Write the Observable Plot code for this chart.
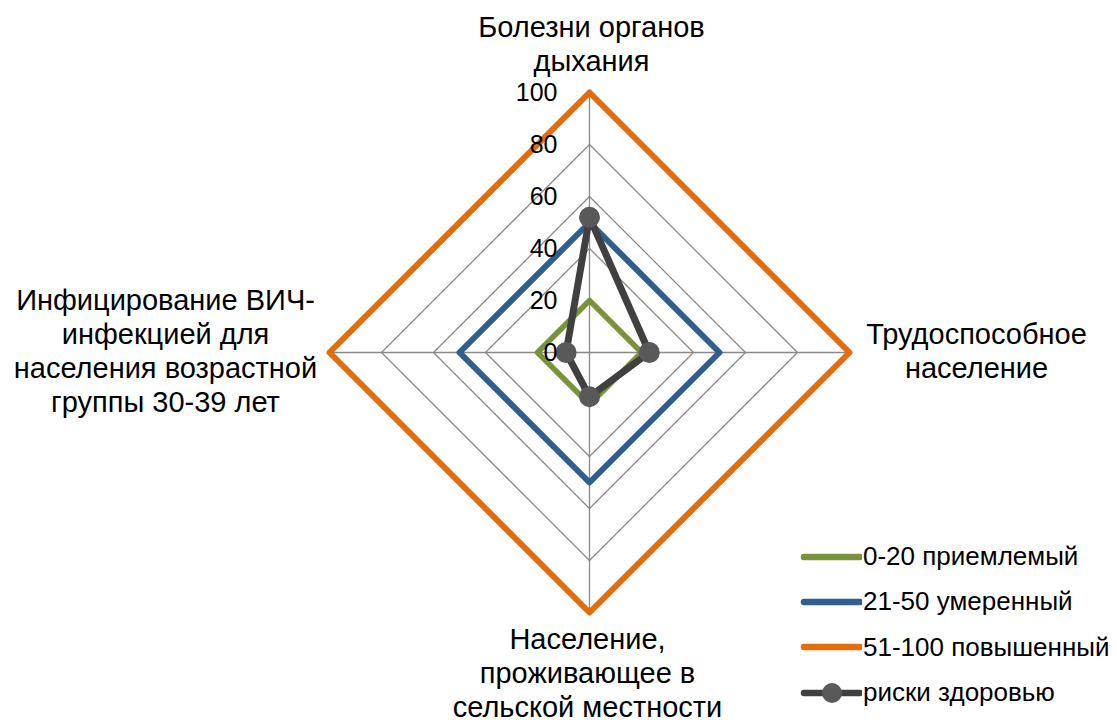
<!DOCTYPE html>
<html>
<head>
<meta charset="utf-8">
<script src="https://cdn.jsdelivr.net/npm/d3@7"></script>
<script src="https://cdn.jsdelivr.net/npm/@observablehq/plot@0.6"></script>
<style>
  body { margin: 0; background: #fff; font-family: "Liberation Sans", Arial, sans-serif; }
  #wrap { position: relative; width: 1117px; height: 720px; overflow: hidden; }
  #legend { position: absolute; left: 800px; top: 534px; font-size: 26px; color: #000; white-space: nowrap; }
  .row { display: flex; align-items: center; height: 45.3px; }
  .row svg { display: block; margin-right: 1px; }
</style>
</head>
<body>
<div id="wrap">
  <div id="chart"></div>
  <div id="legend"></div>
</div>
<script>
const categories = [
  "Болезни органов дыхания",
  "Трудоспособное население",
  "Население, проживающее в сельской местности",
  "Инфицирование ВИЧ-инфекцией для населения возрастной группы 30-39 лет"
];
const categoryLabels = [
  "Болезни органов\nдыхания",
  "Трудоспособное\nнаселение",
  "Население,\nпроживающее в\nсельской местности",
  "Инфицирование ВИЧ-\nинфекцией для\nнаселения возрастной\nгруппы 30-39 лет"
];
const seriesNames = ["0-20 приемлемый", "21-50 умеренный", "51-100 повышенный", "риски здоровью"];
const acceptable = [20, 20, 20, 20];
const moderate = [50, 50, 50, 50];
const elevated = [100, 100, 100, 100];
const risks = [52, 23, 17, 9];
const tickValues = [0, 20, 40, 60, 80, 100];
const colors = ["#77933C", "#2F5F8F", "#E46C0A", "#404040"];

const cx = 589, cy = 352, R = 260, W = 1117, H = 720;
const angles = categories.map((_, i) => Math.PI / 2 - i * Math.PI / 2);
const polar = (v, i) => ({x: v * Math.cos(angles[i]), y: v * Math.sin(angles[i])});
const ring = (values, series) => [...values, values[0]].map((v, i) => ({series, ...polar(v, i % values.length)}));

const gridRings = tickValues.filter(t => t > 0).flatMap(t => ring(categories.map(() => t), "g" + t));
const spokes = categories.flatMap((c, i) => [{k: c, x: 0, y: 0}, {k: c, ...polar(100, i)}]);
const series = [acceptable, moderate, elevated];
const riskPts = risks.map((v, i) => polar(v, i));

const labelOffsets = [[2, -49], [127, -2], [-2, 60], [-164, -2]];
const labelData = categoryLabels.map((t, i) => ({t, ...polar(100, i), dx: labelOffsets[i][0], dy: labelOffsets[i][1]}));

const marks = [
  Plot.line(gridRings, {x: "x", y: "y", z: "series", stroke: "#898989", strokeWidth: 1.3}),
  Plot.line(spokes, {x: "x", y: "y", z: "k", stroke: "#898989", strokeWidth: 1.3}),
  ...series.map((s, si) => Plot.line(ring(s, seriesNames[si]), {x: "x", y: "y", stroke: colors[si], strokeWidth: si === 0 ? 5.5 : 6, strokeLinejoin: "round"})),
  Plot.line(ring(risks, seriesNames[3]), {x: "x", y: "y", stroke: colors[3], strokeWidth: 7, strokeLinejoin: "round"}),
  Plot.dot(riskPts, {x: "x", y: "y", r: 10.5, fill: "#595959", stroke: "none"}),
  Plot.text(tickValues, {x: 0, y: d => d, text: d => String(d), textAnchor: "end", dx: -32, fontSize: 25, fill: "#000"}),
  ...labelData.map(d => Plot.text([d], {x: "x", y: "y", text: "t", dx: d.dx, dy: d.dy, textAnchor: "middle", lineAnchor: "middle", lineHeight: 1.17, fontSize: 29, fill: "#000"}))
];

const chart = Plot.plot({
  width: W, height: H,
  margin: 0,
  x: {type: "linear", domain: [-cx / R * 100, (W - cx) / R * 100], range: [0, W], axis: null},
  y: {type: "linear", domain: [(cy - H) / R * 100, cy / R * 100], range: [H, 0], axis: null},
  style: {fontFamily: "'Liberation Sans', Arial, sans-serif", background: "#fff", color: "#000"},
  marks
});
document.getElementById("chart").appendChild(chart);

const legend = document.getElementById("legend");
seriesNames.forEach((name, i) => {
  const row = document.createElement("div");
  row.className = "row";
  const marker = i === 3 ? `<circle cx="32" cy="12" r="10" fill="#595959"/>` : "";
  row.innerHTML = `<svg width="62" height="24"><line x1="4" y1="12" x2="60" y2="12" stroke="${colors[i]}" stroke-width="6.5" stroke-linecap="round"/>${marker}</svg><span>${name}</span>`;
  legend.appendChild(row);
});
</script>
</body>
</html>
